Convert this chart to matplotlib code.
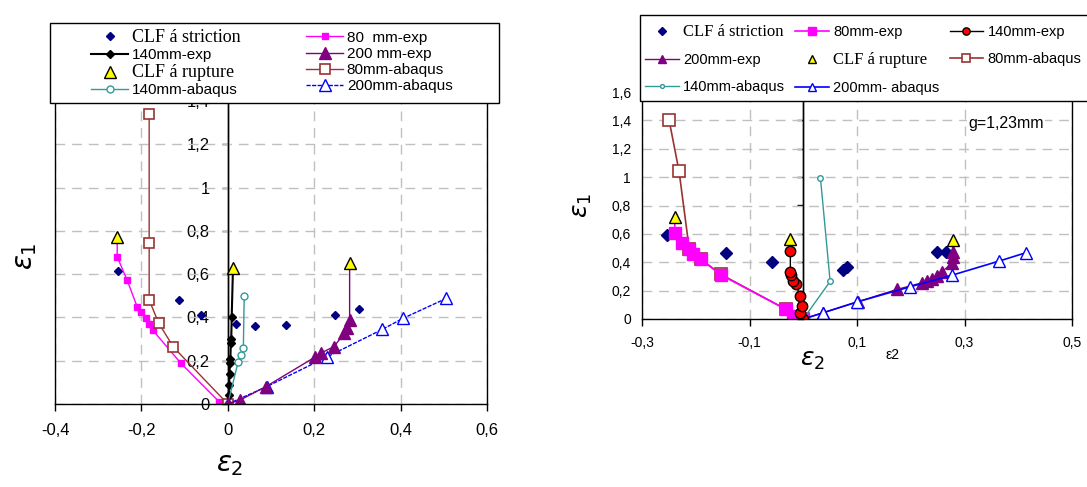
import numpy as np
import matplotlib
matplotlib.use("Agg")
import matplotlib.pyplot as plt
from matplotlib.patches import Rectangle

plt.rcParams["font.family"] = ["Liberation Sans", "DejaVu Sans"]

# ---- left chart data (eps2, eps1) ----
strict_l_x = [-0.254, -0.114, -0.062, 0.018, 0.062, 0.134, 0.248, 0.304]
strict_l_y = [0.616, 0.48, 0.41, 0.37, 0.36, 0.365, 0.41, 0.437]
rupt_l_x = [-0.256, 0.012, 0.282]
rupt_l_y = [0.77, 0.63, 0.65]
exp80_l_x = [0, -0.02, -0.109, -0.174, -0.182, -0.19, -0.201, -0.21, -0.233, -0.256, -0.256]
exp80_l_y = [0, 0.01, 0.189, 0.342, 0.37, 0.397, 0.426, 0.45, 0.572, 0.68, 0.77]
exp140_l_x = [0, 0.002, 0.003, 0.004, 0.005, 0.006, 0.007, 0.008, 0.009, 0.012]
exp140_l_y = [0, 0.04, 0.09, 0.14, 0.19, 0.21, 0.28, 0.30, 0.40, 0.63]
exp200_l_x = [0, 0.028, 0.088, 0.203, 0.215, 0.246, 0.269, 0.277, 0.282, 0.282]
exp200_l_y = [0, 0.018, 0.08, 0.218, 0.235, 0.265, 0.326, 0.35, 0.388, 0.65]
abq80_l_x = [0, -0.126, -0.16, -0.182, -0.182, -0.182]
abq80_l_y = [0, 0.263, 0.374, 0.48, 0.745, 1.34]
abq140_l_x = [0, 0.024, 0.03, 0.036, 0.038]
abq140_l_y = [0, 0.195, 0.225, 0.26, 0.50]
abq200_l_x = [0, 0.09, 0.23, 0.358, 0.406, 0.506]
abq200_l_y = [0, 0.08, 0.218, 0.345, 0.396, 0.488]

# ---- right chart data (g = 1,23 mm) ----
strict_r_x = [-0.253, -0.143, -0.059, 0.074, 0.081, 0.249, 0.266]
strict_r_y = [0.59, 0.468, 0.40, 0.344, 0.367, 0.472, 0.472]
rupt_r_x = [-0.239, -0.025, 0.278]
rupt_r_y = [0.72, 0.566, 0.555]
exp80_r_x = [0, -0.01, -0.02, -0.033, -0.153, -0.19, -0.206, -0.212, -0.225, -0.239, -0.239]
exp80_r_y = [0, 0.005, 0.02, 0.07, 0.31, 0.42, 0.46, 0.49, 0.535, 0.606, 0.72]
exp140_r_x = [0, -0.006, -0.003, -0.006, -0.014, -0.019, -0.022, -0.024, -0.024, -0.025]
exp140_r_y = [0, 0.04, 0.09, 0.16, 0.25, 0.27, 0.31, 0.33, 0.48, 0.566]
exp200_r_x = [0, 0.037, 0.101, 0.174, 0.221, 0.23, 0.24, 0.249, 0.258, 0.277, 0.279, 0.279, 0.278]
exp200_r_y = [0, 0.044, 0.121, 0.208, 0.255, 0.269, 0.285, 0.302, 0.332, 0.395, 0.437, 0.47, 0.555]
abq80_r_x = [0, -0.033, -0.153, -0.19, -0.212, -0.231, -0.2495]
abq80_r_y = [0, 0.07, 0.314, 0.42, 0.49, 1.04, 1.40]
abq140_r_x = [0, 0.05, 0.032]
abq140_r_y = [0, 0.265, 0.994]
abq200_r_x = [0, 0.037, 0.1, 0.199, 0.277, 0.365, 0.415]
abq200_r_y = [0, 0.044, 0.12, 0.227, 0.309, 0.409, 0.468]

# axes ticks / labels
xticks_l = [-0.4, -0.2, 0, 0.2, 0.4, 0.6]
xlabels_l = ["-0,4", "-0,2", "0", "0,2", "0,4", "0,6"]
yticks = [0, 0.2, 0.4, 0.6, 0.8, 1.0, 1.2, 1.4, 1.6]
ylabels = ["0", "0,2", "0,4", "0,6", "0,8", "1", "1,2", "1,4", "1,6"]
xticks_r = [-0.3, -0.1, 0.1, 0.3, 0.5]
xlabels_r = ["-0,3", "-0,1", "0,1", "0,3", "0,5"]

NAVY = "#000080"
MAGENTA = "#ff00ff"
PURPLE = "#800080"
BROWN = "#993333"
TEAL = "#339999"
BLUE = "#0000ff"
GRID = "#c0c0c0"

W, H = 1087, 487
fig = plt.figure(figsize=(W / 100, H / 100), dpi=100)


def fx(px):
    return px / W


def fy(py):
    return 1 - py / H


def setup_axes(ax, xlim, xticks, xlabels, zero_labels, fs, xpad, ypad):
    ax.set_xlim(*xlim)
    ax.set_ylim(0, 1.6)
    ax.set_xticks(xticks)
    ax.set_xticklabels(xlabels, fontsize=fs)
    ax.set_yticks(yticks)
    ax.grid(True, color=GRID, linestyle=(0, (7, 5)), linewidth=1)
    ax.set_axisbelow(True)
    for s in ax.spines.values():
        s.set_color("black")
        s.set_linewidth(1)
    ax.tick_params(axis="x", direction="out", length=5, width=1, pad=xpad)
    # vertical axis through eps2 = 0
    ax.axvline(0, color="black", lw=1)
    loc = (0 - xlim[0]) / (xlim[1] - xlim[0])
    sec = ax.secondary_yaxis(loc)
    sec.set_yticks(yticks)
    sec.spines["left"].set_linewidth(1)
    sec.tick_params(direction="out", length=4, width=1, pad=ypad)
    if zero_labels:
        ax.set_yticklabels([])
        ax.tick_params(axis="y", length=0)
        sec.set_yticklabels(ylabels[:-1] + [""], fontsize=fs)
    else:
        sec.set_yticklabels([])
        ax.set_yticklabels(ylabels, fontsize=fs)
        ax.tick_params(axis="y", length=0, pad=ypad)
    return sec


def upto_last(x):
    return list(range(len(x) - 1))


def legend_box(x0, y0, x1, y1):
    r = Rectangle((fx(x0), fy(y1)), fx(x1) - fx(x0), fy(y0) - fy(y1),
                  transform=fig.transFigure, facecolor="white", edgecolor="black",
                  linewidth=1, zorder=4)
    fig.add_artist(r)


# ---------------- left chart ----------------
ax1 = fig.add_axes([fx(55), fy(404), fx(487) - fx(55), fy(57.6) - fy(404)])
setup_axes(ax1, (-0.4, 0.6), xticks_l, xlabels_l, True, 12, 9, 9)

h = {}
h["s"], = ax1.plot(strict_l_x, strict_l_y, "D", color=NAVY, ms=4, ls="none", label="CLF á striction")
h["e80"], = ax1.plot(exp80_l_x, exp80_l_y, "-s", color=MAGENTA, ms=4.5, lw=1,
                     markevery=upto_last(exp80_l_x), label="80  mm-exp")
h["a80"], = ax1.plot(abq80_l_x, abq80_l_y, "-s", color=BROWN, mfc="white", mec=BROWN, mew=1.2,
                     ms=7, lw=1, label="80mm-abaqus")
h["e140"], = ax1.plot(exp140_l_x, exp140_l_y, "-D", color="black", ms=4.5, lw=1.5,
                      markevery=upto_last(exp140_l_x), label="140mm-exp")
h["a140"], = ax1.plot(abq140_l_x, abq140_l_y, "-o", color=TEAL, mfc="white", mec=TEAL,
                      ms=5, lw=1, label="140mm-abaqus")
h["a200"], = ax1.plot(abq200_l_x, abq200_l_y, "-^", color=BLUE, mfc="white", mec=BLUE,
                      ms=8, lw=1, label="200mm-abaqus")
ax1.lines[-1].set_dashes((3, 1))
h["e200"], = ax1.plot(exp200_l_x, exp200_l_y, "-^", color=PURPLE, ms=8, lw=1,
                      markevery=upto_last(exp200_l_x), label="200 mm-exp")
h["r"], = ax1.plot(rupt_l_x, rupt_l_y, "^", color="#ffff00", mec="black", ms=8, ls="none",
                   label="CLF á rupture")

legend_box(50, 23, 499, 103)
order_l = ["s", "e140", "r", "a140", "e80", "e200", "a80", "a200"]
leg1 = fig.legend([h[k] for k in order_l], [h[k].get_label() for k in order_l],
                  ncol=2, loc="center", bbox_to_anchor=(fx(272), fy(63)),
                  fontsize=11, frameon=False, labelspacing=0.15, handlelength=2.4,
                  handletextpad=0.25, borderaxespad=0, borderpad=0, columnspacing=4.3)
for t in leg1.get_texts():
    if t.get_text().startswith("CLF"):
        t.set_family(["Liberation Serif", "DejaVu Serif"])
        t.set_fontsize(13)

fig.text(fx(26), fy(256), r"$\varepsilon_1$", fontsize=20, rotation=90,
         ha="center", va="center")
fig.text(fx(230), fy(465), r"$\varepsilon_2$", fontsize=20, ha="center", va="center")

# ---------------- right chart ----------------
ax2 = fig.add_axes([fx(642), fy(319), fx(1072) - fx(642), fy(92) - fy(319)])
setup_axes(ax2, (-0.3, 0.5), xticks_r, xlabels_r, False, 10, 7, 8)

g = {}
g["s"], = ax2.plot(strict_r_x, strict_r_y, "D", color=NAVY, ms=6.5, ls="none", label="CLF á striction")
g["a80"], = ax2.plot(abq80_r_x, abq80_r_y, "-s", color=BROWN, mfc="white", mec=BROWN, mew=1.2,
                     ms=9, lw=1.2, label="80mm-abaqus")
g["e80"], = ax2.plot(exp80_r_x, exp80_r_y, "-s", color=MAGENTA, ms=8.5, lw=1.2,
                     markevery=upto_last(exp80_r_x), label="80mm-exp")
g["a140"], = ax2.plot(abq140_r_x, abq140_r_y, "-o", color=TEAL, mfc="white", mec=TEAL,
                      ms=4, lw=1, label="140mm-abaqus")
g["e200"], = ax2.plot(exp200_r_x, exp200_r_y, "-^", color=PURPLE, ms=8, lw=1,
                      markevery=upto_last(exp200_r_x), label="200mm-exp")
g["a200"], = ax2.plot(abq200_r_x, abq200_r_y, "-^", color=BLUE, mfc="white", mec=BLUE,
                      ms=8, lw=1.2, label="200mm- abaqus")
g["e140"], = ax2.plot(exp140_r_x, exp140_r_y, "-o", color="black", mfc="red", mec="black",
                      ms=7.5, lw=1, markevery=upto_last(exp140_r_x), label="140mm-exp")
g["r"], = ax2.plot(rupt_r_x, rupt_r_y, "^", color="#ffff00", mec="black", ms=9, ls="none",
                   label="CLF á rupture")

legend_box(640, 15, 1100, 101)
order_r = ["s", "e200", "a140", "e80", "r", "a200", "e140", "a80"]
leg2 = fig.legend([g[k] for k in order_r], [g[k].get_label() for k in order_r],
                  ncol=3, loc="upper left", bbox_to_anchor=(fx(645), fy(24)),
                  fontsize=10.5, frameon=False, labelspacing=0.9, handlelength=2.3,
                  handletextpad=0.3, borderaxespad=0, borderpad=0, columnspacing=0.7,
                  markerscale=0.7)
for t in leg2.get_texts():
    if t.get_text().startswith("CLF"):
        t.set_family(["Liberation Serif", "DejaVu Serif"])
        t.set_fontsize(12)

ax2.text(0.307, 1.38, "g=1,23mm", fontsize=11.5, ha="left", va="center",
         bbox=dict(facecolor="white", edgecolor="none", pad=1))
fig.text(fx(582), fy(205), r"$\varepsilon_1$", fontsize=18, rotation=90,
         ha="center", va="center")
fig.text(fx(812), fy(360), r"$\varepsilon_2$", fontsize=18, ha="center", va="center")
fig.text(fx(893), fy(355), "ε2", fontsize=10, ha="center", va="center")

fig.savefig("out.png", dpi=100)
